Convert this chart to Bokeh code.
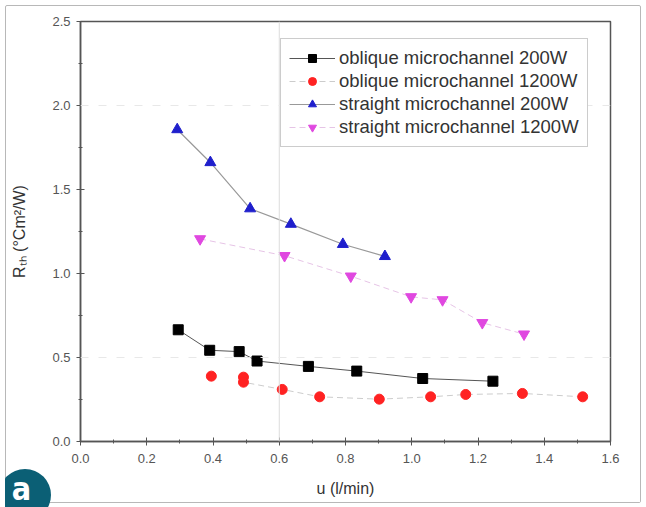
from bokeh.plotting import figure
from bokeh.layouts import column
from bokeh.models import (Range1d, SingleIntervalTicker, Legend, LegendItem, Span, Div,
                          PrintfTickFormatter)
from bokeh.embed import file_html
from bokeh.resources import INLINE

# ---- data ----
oblique_200_u = [0.295, 0.39, 0.479, 0.533, 0.688, 0.834, 1.033, 1.245]
oblique_200_r = [0.665, 0.543, 0.535, 0.479, 0.447, 0.419, 0.375, 0.359]

oblique_1200_u = [0.395, 0.492, 0.492, 0.609, 0.722, 0.902, 1.057, 1.163, 1.334, 1.516]
oblique_1200_r = [0.389, 0.383, 0.353, 0.310, 0.266, 0.252, 0.266, 0.280, 0.286, 0.266]

straight_200_u = [0.292, 0.392, 0.512, 0.635, 0.792, 0.919]
straight_200_r = [1.857, 1.661, 1.386, 1.294, 1.174, 1.102]

straight_1200_u = [0.361, 0.616, 0.816, 0.998, 1.093, 1.213, 1.339]
straight_1200_r = [1.206, 1.106, 0.984, 0.861, 0.843, 0.707, 0.639]

series_labels = ["oblique microchannel 200W", "oblique microchannel 1200W",
                 "straight microchannel 200W", "straight microchannel 1200W"]

x_label = "u (l/min)"
y_label = "R\u209c\u2095 (\u00b0Cm\u00b2/W)"
panel_letter = "a"

FONT = "Liberation Sans"

p = figure(frame_width=528, frame_height=418,
           x_range=Range1d(0, 1.6), y_range=Range1d(0, 2.5),
           output_backend="svg", toolbar_location=None,
           min_border_left=74, min_border_right=32,
           min_border_top=15, min_border_bottom=63,
           background_fill_color="white", border_fill_color="white")
p.styles = {"border": "1px solid #b8b8b8", "margin": "5px", "border-radius": "2px"}

p.grid.visible = False
p.outline_line_color = "#555555"
p.outline_line_width = 1.5

# faint guide lines as in the scan
p.add_layout(Span(location=0.6, dimension="height", line_color="#dcdcdc", line_width=1))
for yv in (0.5, 2.0):
    p.add_layout(Span(location=yv, dimension="width", line_color="#e8e8e8",
                      line_width=1, line_dash="8 10"))

for ax, interval in ((p.xaxis[0], 0.2), (p.yaxis[0], 0.5)):
    ax.ticker = SingleIntervalTicker(interval=interval, num_minor_ticks=2)
    ax.formatter = PrintfTickFormatter(format="%.1f")
    ax.axis_line_color = "#555555"
    ax.axis_line_width = 1.5
    ax.major_tick_line_color = "#555555"
    ax.minor_tick_line_color = "#555555"
    ax.major_tick_in = 4
    ax.major_tick_out = 4
    ax.minor_tick_in = 2
    ax.minor_tick_out = 2
    ax.major_label_text_font = FONT
    ax.major_label_text_font_size = "13px"
    ax.major_label_text_color = "#555555"
    ax.axis_label_text_font = FONT
    ax.axis_label_text_font_style = "normal"
    ax.axis_label_text_font_size = "16px"
    ax.axis_label_text_color = "#333333"

p.xaxis.axis_label = x_label
p.yaxis.axis_label = y_label
p.xaxis.major_label_standoff = 8
p.yaxis.major_label_standoff = 6
p.xaxis.axis_label_standoff = 14
p.yaxis.axis_label_standoff = 21

l0 = p.line(oblique_200_u, oblique_200_r, line_color="#555555", line_width=1)
l1 = p.line(oblique_1200_u[1:], oblique_1200_r[1:], line_color="#cccccc", line_width=1, line_dash="6 4")
l2 = p.line(straight_200_u, straight_200_r, line_color="#999999", line_width=1.2)
l3 = p.line(straight_1200_u, straight_1200_r, line_color="#e6c4e6", line_width=1, line_dash="6 4")

s0 = p.scatter(oblique_200_u, oblique_200_r, marker="square", size=10,
               fill_color="black", line_color="black")
s1 = p.scatter(oblique_1200_u, oblique_1200_r, marker="circle", size=10,
               fill_color="#ff2222", line_color="#ff2222")
s2 = p.scatter(straight_200_u, straight_200_r, marker="triangle", size=11,
               fill_color="#1f1fcc", line_color="#1f1fcc")
s3 = p.scatter(straight_1200_u, straight_1200_r, marker="inverted_triangle", size=11,
               fill_color="#e048e0", line_color="#e048e0")

legend = Legend(items=[
    LegendItem(label=series_labels[0], renderers=[l0, s0]),
    LegendItem(label=series_labels[1], renderers=[l1, s1]),
    LegendItem(label=series_labels[2], renderers=[l2, s2]),
    LegendItem(label=series_labels[3], renderers=[l3, s3]),
], location=(200, 294))
legend.label_text_font = FONT
legend.label_text_font_size = "18.5px"
legend.label_text_color = "#333333"
legend.label_height = 20
legend.glyph_height = 20
legend.glyph_width = 46
legend.spacing = 1
legend.padding = 8
legend.label_standoff = 4
legend.border_line_color = "#999999"
legend.border_line_width = 1
legend.background_fill_alpha = 1
p.add_layout(legend, "center")

# panel badge "a" in the bottom-left corner, as an HTML overlay
badge_html = (
    '<div style="position:absolute; left:-6px; top:0px; width:52px; height:52px; '
    'border-radius:50%; background:#0b5f75;"></div>'
    '<div style="position:absolute; left:0px; top:6px; width:33px; text-align:center; '
    'color:white; font-family:\'DejaVu Sans Condensed\'; font-weight:bold; font-size:32px; '
    'line-height:28px;">' + panel_letter + '</div>'
)
badge = Div(text=badge_html, width=46, height=38,
            styles={"position": "absolute", "left": "0px", "top": "464px",
                    "overflow": "hidden", "z-index": "10"})

layout = column(p, badge, spacing=0)

open("out.html", "w").write(file_html(layout, INLINE))
